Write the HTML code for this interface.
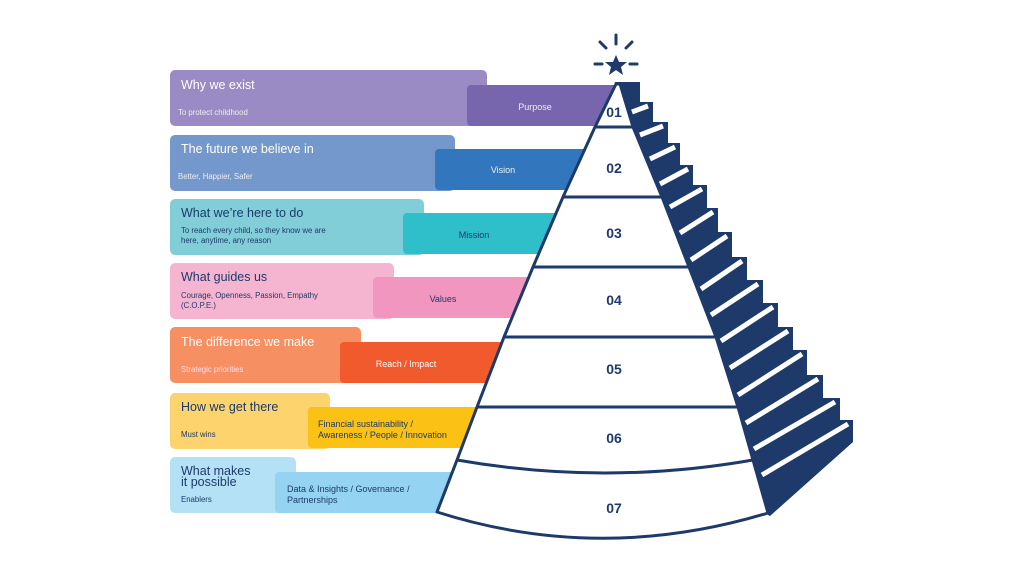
<!DOCTYPE html>
<html><head><meta charset="utf-8"><style>
html,body{margin:0;padding:0;background:#fff;}
svg{display:block;}
.t{font-family:"Liberation Sans",sans-serif;font-size:12.5px;}
.s{font-family:"Liberation Sans",sans-serif;font-size:7.8px;}
.m{font-family:"Liberation Sans",sans-serif;font-size:9px;}
.n{font-family:"Liberation Sans",sans-serif;font-size:14px;font-weight:bold;fill:#1d3a6b;}
</style></head><body>
<svg width="1024" height="576" viewBox="0 0 1024 576" xmlns="http://www.w3.org/2000/svg">
<!-- row 1 -->
<rect x="170" y="70" width="317" height="56" rx="5" fill="#9a8bc4"/>
<rect x="467" y="85" width="160" height="41" rx="4" fill="#7766ad"/>
<text x="181" y="89" class="t" fill="#fff">Why we exist</text>
<text x="178" y="115" class="s" fill="#eee">To protect childhood</text>
<text x="535" y="110" class="m" fill="#eee" text-anchor="middle">Purpose</text>
<!-- row 2 -->
<rect x="170" y="135" width="285" height="56" rx="5" fill="#7497cc"/>
<rect x="435" y="149" width="170" height="41" rx="4" fill="#3277bd"/>
<text x="181" y="153" class="t" fill="#fff">The future we believe in</text>
<text x="178" y="179" class="s" fill="#eee">Better, Happier, Safer</text>
<text x="503" y="173" class="m" fill="#eee" text-anchor="middle">Vision</text>
<!-- row 3 -->
<rect x="170" y="199" width="254" height="56" rx="5" fill="#81ced8"/>
<rect x="403" y="213" width="170" height="41" rx="4" fill="#2fbfcb"/>
<text x="181" y="217" class="t" fill="#1d3a6b">What we’re here to do</text>
<text x="181" y="233" class="s" fill="#1d3a6b">To reach every child, so they know we are</text>
<text x="181" y="243" class="s" fill="#1d3a6b">here, anytime, any reason</text>
<text x="474" y="238" class="m" fill="#1d3a6b" text-anchor="middle">Mission</text>
<!-- row 4 -->
<rect x="170" y="263" width="224" height="56" rx="5" fill="#f5b5d0"/>
<rect x="373" y="277" width="180" height="41" rx="4" fill="#f196bf"/>
<text x="181" y="281" class="t" fill="#1d3a6b">What guides us</text>
<text x="181" y="298" class="s" fill="#1d3a6b">Courage, Openness, Passion, Empathy</text>
<text x="181" y="308" class="s" fill="#1d3a6b">(C.O.P.E.)</text>
<text x="443" y="302" class="m" fill="#1d3a6b" text-anchor="middle">Values</text>
<!-- row 5 -->
<rect x="170" y="327" width="191" height="56" rx="5" fill="#f68f62"/>
<rect x="340" y="342" width="190" height="41" rx="4" fill="#f05a2c"/>
<text x="181" y="346" class="t" fill="#fff">The difference we make</text>
<text x="181" y="372" class="s" fill="#fde">Strategic priorities</text>
<text x="406" y="367" class="m" fill="#fff" text-anchor="middle">Reach / Impact</text>
<!-- row 6 -->
<rect x="170" y="393" width="160" height="56" rx="5" fill="#fdd36d"/>
<rect x="308" y="407" width="200" height="41" rx="4" fill="#fbc115"/>
<text x="181" y="411" class="t" fill="#1d3a6b">How we get there</text>
<text x="181" y="437" class="s" fill="#1d3a6b">Must wins</text>
<text x="318" y="427" class="m" fill="#1d3a6b">Financial sustainability /</text>
<text x="318" y="438" class="m" fill="#1d3a6b">Awareness / People / Innovation</text>
<!-- row 7 -->
<rect x="170" y="457" width="126" height="56" rx="5" fill="#b5e1f6"/>
<rect x="275" y="472" width="200" height="41" rx="4" fill="#94d3f2"/>
<text x="181" y="475" class="t" fill="#1d3a6b">What makes</text>
<text x="181" y="486" class="t" fill="#1d3a6b">it possible</text>
<text x="181" y="502" class="s" fill="#1d3a6b">Enablers</text>
<text x="287" y="492" class="m" fill="#1d3a6b">Data &amp; Insights / Governance /</text>
<text x="287" y="503" class="m" fill="#1d3a6b">Partnerships</text>

<!-- stairs -->
<path fill="#1d3a6b" d="M614,82 L640,82 L640,102 L653,102 L653,122 L668,122 L668,143 L680,143 L680,165 L693,165 L693,185 L707,185 L707,208 L718,208 L718,232 L732,232 L732,257 L747,257 L747,280 L763,280 L763,303 L778,303 L778,327 L793,327 L793,350 L807,350 L807,375 L823,375 L823,398 L840,398 L840,420 L853,420 L853,442 L770,516 L768,515 L753,460 L738,407 L716,337 L689,267 L662,197 L633,127 L620,85 Z"/>
<g stroke="#fff" stroke-width="5" stroke-linecap="butt">
<line x1="632" y1="112" x2="648" y2="106"/>
<line x1="640" y1="135" x2="663" y2="126"/>
<line x1="650" y1="159" x2="675" y2="147"/>
<line x1="660" y1="184" x2="688" y2="169"/>
<line x1="670" y1="207" x2="702" y2="189"/>
<line x1="680" y1="233" x2="713" y2="212"/>
<line x1="691" y1="260" x2="727" y2="236"/>
<line x1="701" y1="289" x2="742" y2="261"/>
<line x1="711" y1="315" x2="758" y2="284"/>
<line x1="721" y1="341" x2="773" y2="307"/>
<line x1="730" y1="368" x2="788" y2="331"/>
<line x1="738" y1="395" x2="802" y2="354"/>
<line x1="746" y1="423" x2="818" y2="379"/>
<line x1="754" y1="449" x2="835" y2="402"/>
<line x1="762" y1="475" x2="848" y2="424"/>
</g>

<!-- pyramid -->
<path fill="#fff" stroke="#1d3a6b" stroke-width="3" stroke-linejoin="round" d="M616,84 L595,127 L563,197 L533,267 L504,337 L477,407 L457,460 L437,512 Q600,564 768,513 L753,460 L738,407 L716,337 L689,267 L662,197 L633,127 L620,84 Z"/>
<g stroke="#1d3a6b" stroke-width="3" fill="none">
<line x1="595" y1="127" x2="633" y2="127"/>
<line x1="563" y1="197" x2="662" y2="197"/>
<line x1="533" y1="267" x2="689" y2="267"/>
<line x1="504" y1="337" x2="716" y2="337"/>
<line x1="477" y1="407" x2="738" y2="407"/>
<path d="M457,460 Q605,486 753,460"/>
</g>
<text x="614" y="117" class="n" text-anchor="middle">01</text>
<text x="614" y="173" class="n" text-anchor="middle">02</text>
<text x="614" y="238" class="n" text-anchor="middle">03</text>
<text x="614" y="305" class="n" text-anchor="middle">04</text>
<text x="614" y="374" class="n" text-anchor="middle">05</text>
<text x="614" y="443" class="n" text-anchor="middle">06</text>
<text x="614" y="513" class="n" text-anchor="middle">07</text>

<!-- star -->
<polygon fill="#1d3a6b" points="616,55 619,62 627,62 621,67 623,75 616,70 609,75 611,67 605,62 613,62"/>
<g stroke="#1d3a6b" stroke-width="3" stroke-linecap="round">
<line x1="616" y1="35" x2="616" y2="44"/>
<line x1="600" y1="42" x2="606" y2="48"/>
<line x1="632" y1="42" x2="626" y2="48"/>
<line x1="595" y1="64" x2="602" y2="64"/>
<line x1="630" y1="64" x2="637" y2="64"/>
</g>
</svg>
</body></html>
